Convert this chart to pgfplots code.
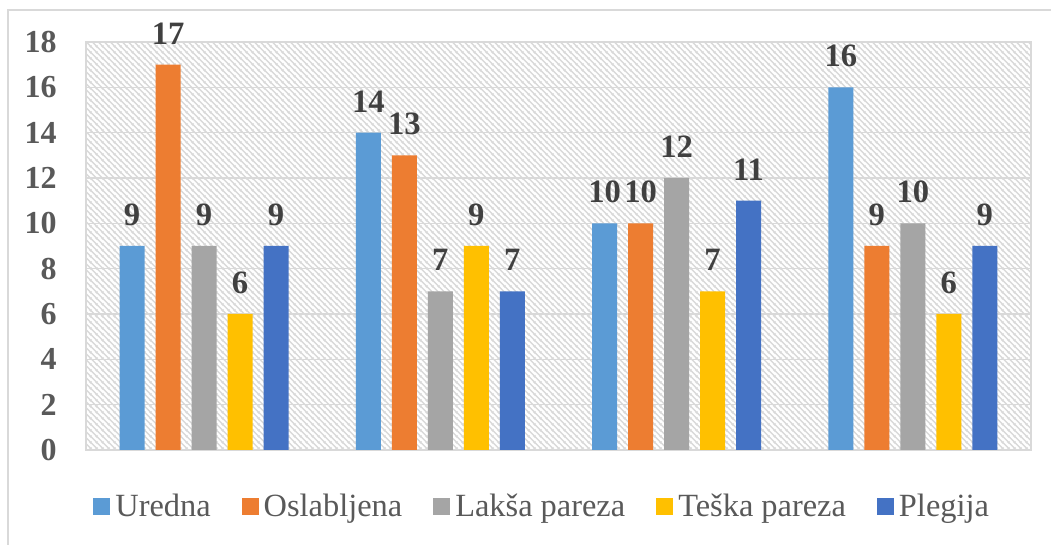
\documentclass[border=0pt]{standalone}
\usepackage{pgfplots}
\pgfplotsset{compat=1.18}
\usetikzlibrary{patterns.meta}
\usepackage{fontspec}
\setmainfont{Liberation Serif}

\definecolor{uredna}{HTML}{5B9BD5}
\definecolor{oslab}{HTML}{ED7D31}
\definecolor{laksa}{HTML}{A5A5A5}
\definecolor{teska}{HTML}{FFC000}
\definecolor{plegija}{HTML}{4472C4}
\definecolor{gridgray}{HTML}{D9D9D9}
\definecolor{hatchgray}{HTML}{D9D9D9}
\definecolor{ticktext}{HTML}{595959}
\definecolor{labeltext}{HTML}{404040}

% light diagonal hatching of the plot area
\tikzdeclarepattern{
  name=hatch,
  type=uncolored,
  bounding box={(0pt,0pt) and (2.85pt,2.85pt)},
  tile size={(2.85pt,2.85pt)},
  code={
    \draw[line width=0.75pt] (-0.5pt,3.35pt) -- (3.35pt,-0.5pt);
    \draw[line width=0.75pt] (-0.5pt,0.5pt) -- (0.5pt,-0.5pt);
    \draw[line width=0.75pt] (2.35pt,3.35pt) -- (3.35pt,2.35pt);
  }
}

\begin{document}
\begin{tikzpicture}
\useasboundingbox (-43pt,-47.5pt) rectangle (482.5pt,225pt);
\begin{axis}[
    at={(0,0)}, anchor=south west,
    scale only axis,
    width=472.5pt, height=204pt,
    ybar=5.5pt, bar width=12.5pt,
    xmin=-0.5, xmax=3.5,
    ymin=0, ymax=18,
    xtick=\empty,
    minor xtick={0.5,1.5,2.5},
    xminorgrids=true,
    ytick={0,2,...,18},
    ymajorgrids=true,
    grid style={gridgray, line width=0.75pt},
    minor grid style={gridgray, line width=0.75pt},
    axis line style={gridgray, line width=0.75pt},
    tick style={draw=none},
    axis background/.style={pattern={hatch}, pattern color=hatchgray},
    /pgf/number format/assume math mode=true,
    yticklabel style={font=\fontsize{16}{19}\selectfont\bfseries, text=ticktext,
        anchor=east, inner sep=0pt, xshift=-14.5pt},
    nodes near coords,
    every node near coord/.append style={font=\fontsize{16.3}{19}\selectfont\bfseries,
        text=labeltext, anchor=south, inner sep=0pt, yshift=10pt},
    legend columns=-1,
    legend image code/.code={\fill[#1,draw=none] (0pt,-4.25pt) rectangle (8.5pt,4.25pt);},
    legend style={at={(0,0)}, anchor=west, xshift=3.5pt, yshift=-28.5pt,
        draw=none, fill=none, inner sep=0pt,
        font=\fontsize{16.2}{19}\selectfont, text=ticktext,
        nodes={inner sep=0pt},
        /tikz/every odd column/.append style={column sep=2.5pt},
        /tikz/every even column/.append style={column sep=15.5pt}},
]
\addplot[fill=uredna, draw=none] coordinates {(0,9) (1,14) (2,10) (3,16)};
\addlegendentry{Uredna}
\addplot[fill=oslab, draw=none] coordinates {(0,17) (1,13) (2,10) (3,9)};
\addlegendentry{Oslabljena}
\addplot[fill=laksa, draw=none] coordinates {(0,9) (1,7) (2,12) (3,10)};
\addlegendentry{Lakša pareza}
\addplot[fill=teska, draw=none] coordinates {(0,6) (1,9) (2,7) (3,6)};
\addlegendentry{Teška pareza}
\addplot[fill=plegija, draw=none] coordinates {(0,9) (1,7) (2,11) (3,9)};
\addlegendentry{Plegija}
\end{axis}
\draw[gridgray, line width=0.75pt] (-39pt,-47.5pt) -- (-39pt,220pt) -- (482.5pt,220pt);
\end{tikzpicture}
\end{document}
